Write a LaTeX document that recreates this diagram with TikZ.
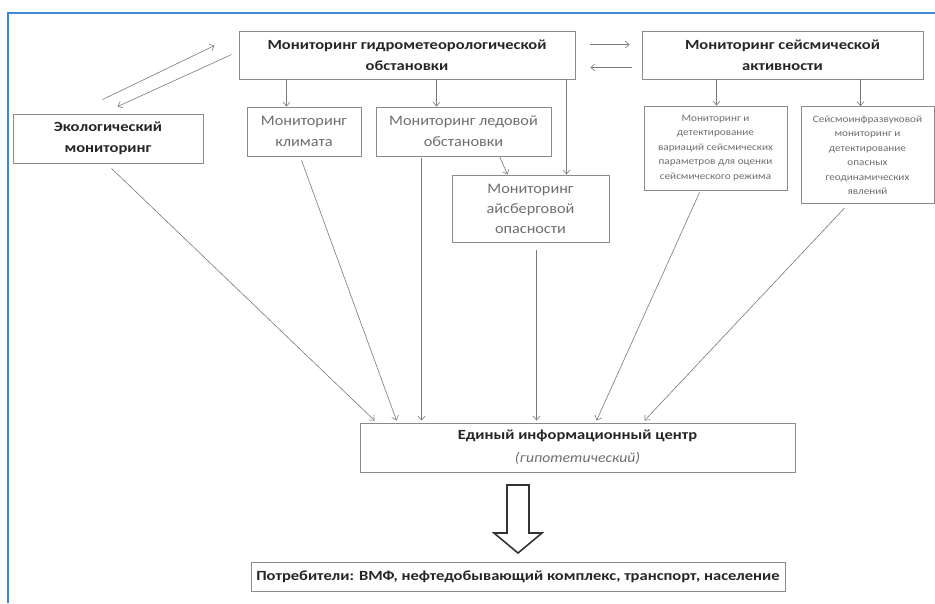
\documentclass[tikz,border=0pt]{standalone}
\usepackage{fontspec}
\setmainfont{Carlito}
\newfontfamily\wideB{Carlito}[FakeStretch=1.18]
\newfontfamily\wideR{Carlito}[FakeStretch=1.12]
\newfontfamily\wideS{Carlito}[FakeStretch=1.14]
\usetikzlibrary{arrows.meta,calc}
\definecolor{boxgray}{HTML}{8A8A8A}
\definecolor{txtdark}{HTML}{262626}
\definecolor{txtgray}{HTML}{6E6E6E}
\definecolor{framblue}{HTML}{3C88D2}
\definecolor{arrgray}{HTML}{7A7A7A}
\begin{document}
\begin{tikzpicture}[x=1pt,y=-1pt,
  box/.style={draw=boxgray,line width=0.9pt,rectangle,inner sep=0pt,align=center},
  boldtxt/.style={font=\wideB\fontsize{14}{21}\selectfont\bfseries,text=txtdark},
  graytxt/.style={font=\wideR\fontsize{14.5}{21}\selectfont,text=txtgray},
  smalltxt/.style={font=\wideS\fontsize{9.8}{14.5}\selectfont,text=txtgray},
  conn/.style={draw=arrgray,line width=0.6pt,-{Straight Barb[length=4pt,width=7pt]}},
  bigarrow/.style={draw=black!80,line width=1.6pt,fill=white}
]
\useasboundingbox (0,0) rectangle (935,603);
\fill[white] (0,0) rectangle (935,603);
% blue frame
\draw[framblue,line width=1.8pt] (8,603) -- (8,13) -- (935,13);

% boxes
\node[box,boldtxt,minimum width=336pt,minimum height=48pt] (hyd) at (407,55)
  {Мониторинг гидрометеорологической\\обстановки};
\node[box,boldtxt,minimum width=281pt,minimum height=48pt] (seis) at (782.5,55)
  {Мониторинг сейсмической\\активности};
\node[box,boldtxt,minimum width=190pt,minimum height=49pt] (eco) at (108,138.5)
  {Экологический\\мониторинг};
\node[box,graytxt,minimum width=114pt,minimum height=49pt] (clim) at (304,131.5)
  {Мониторинг\\климата};
\node[box,graytxt,minimum width=175pt,minimum height=49pt] (ice) at (463.5,131.5)
  {Мониторинг ледовой\\обстановки};
\node[box,font=\wideR\fontsize{14.5}{20}\selectfont,text=txtgray,minimum width=157pt,minimum height=67pt] (iceb) at (530.5,208.5)
  {Мониторинг\\айсберговой\\опасности};
\node[box,smalltxt,minimum width=143pt,minimum height=84pt] (s1) at (715.5,148)
  {Мониторинг и\\детектирование\\вариаций сейсмических\\параметров для оценки\\сейсмического режима};
\node[box,smalltxt,minimum width=133pt,minimum height=97pt] (s2) at (867.5,155)
  {Сейсмоинфразвуковой\\мониторинг и\\детектирование\\опасных\\геодинамических\\явлений};
\node[box,font=\fontsize{14}{23}\selectfont,minimum width=435pt,minimum height=49pt] (ctr) at (577.5,447.5)
  {{\wideB\bfseries\color{txtdark}Единый информационный центр}\\
   {\wideR\itshape\color{txtgray}(гипотетический)}};
\node[box,boldtxt,minimum width=534pt,minimum height=29pt] (cons) at (518,576.5)
  {Потребители: ВМФ, нефтедобывающий комплекс, транспорт, население};

% connectors between top boxes
\draw[conn] ([xshift=48pt]hyd.south west) -- ([xshift=40pt]clim.north west);
\draw[conn] ([xshift=198pt]hyd.south west) -- ([xshift=61pt]ice.north west);
\draw[conn] ([xshift=124pt]ice.south west) -- ([xshift=56pt]iceb.north west);
\draw[conn] ([xshift=-9pt]hyd.south east) -- ([xshift=-43pt]iceb.north east);
\draw[conn] ([xshift=75pt]seis.south west) -- ([xshift=73pt]s1.north west);
\draw[conn] ([xshift=219pt]seis.south west) -- ([xshift=60pt]s2.north west);
\draw[conn] ([xshift=15pt,yshift=-14pt]hyd.north east) -- ([xshift=-12pt,yshift=-14pt]seis.north west);
\draw[conn] ([xshift=-10pt,yshift=12pt]seis.south west) -- ([xshift=15pt,yshift=12pt]hyd.south east);
\draw[conn] ([xshift=90pt,yshift=14pt]eco.north west) -- ([xshift=-24pt,yshift=-15pt]hyd.north west);
\draw[conn] ([xshift=-7pt,yshift=-24pt]hyd.north west) -- ([xshift=105pt,yshift=7pt]eco.north west);

% connectors to the centre
\draw[conn] ([xshift=99pt,yshift=-5pt]eco.south west) -- ([xshift=15pt,yshift=2pt]ctr.north west);
\draw[conn] ([xshift=55pt,yshift=-4pt]clim.south west) -- ([xshift=37pt,yshift=2pt]ctr.north west);
\draw[conn] ([xshift=46pt,yshift=-2pt]ice.south west) -- ([xshift=62pt,yshift=2pt]ctr.north west);
\draw[conn] ([xshift=85pt,yshift=-8pt]iceb.south west) -- ([xshift=177pt,yshift=2pt]ctr.north west);
\draw[conn] ([xshift=56pt,yshift=-2pt]s1.south west) -- ([xshift=237pt,yshift=2pt]ctr.north west);
\draw[conn] ([xshift=44pt,yshift=-4pt]s2.south west) -- ([xshift=285pt,yshift=2pt]ctr.north west);

% big hollow arrow
\coordinate (bat) at (518,485);
\coordinate (btip) at (518,553);
\draw[bigarrow] ([xshift=-11pt]bat) -- ([xshift=11pt]bat) -- ([xshift=11pt,yshift=-48pt]bat)
  -- ([xshift=24pt,yshift=-48pt]bat) -- (btip) -- ([xshift=-24pt,yshift=-48pt]bat)
  -- ([xshift=-11pt,yshift=-48pt]bat) -- cycle;
\end{tikzpicture}
\end{document}
